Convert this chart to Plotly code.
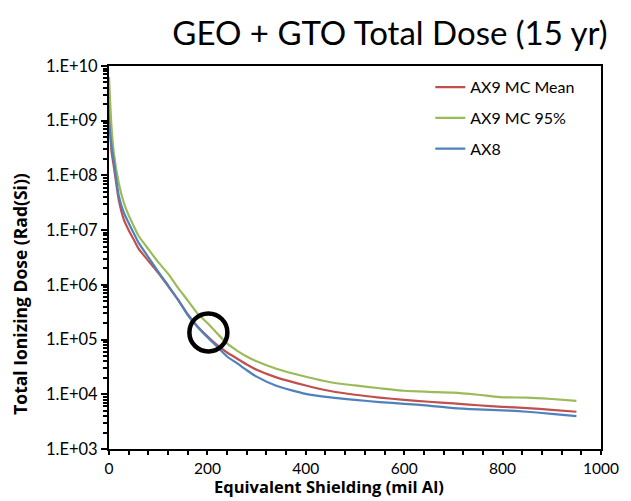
import plotly.graph_objects as go

# Equivalent aluminium shielding thickness (mil)
shielding = [0, 5, 10, 20, 30, 40, 50, 60, 80, 100, 120, 140, 160, 180, 200, 220,
             240, 260, 280, 300, 340, 400, 450, 500, 550, 600, 650, 700, 750, 800,
             850, 900, 950]

# Total ionizing dose, rad(Si)
ax9_mean = [2.5e9, 2.8e8, 1.41e8, 3.5e7, 1.58e7, 1.0e7, 6.8e6, 4.6e6, 2.75e6, 1.66e6,
            9.5e5, 5.4e5, 2.9e5, 1.74e5, 1.15e5, 7.9e4, 5.8e4, 4.5e4, 3.5e4, 2.8e4,
            2.04e4, 1.45e4, 1.15e4, 9.8e3, 8.7e3, 7.9e3, 7.3e3, 6.8e3, 6.3e3, 5.9e3,
            5.6e3, 5.2e3, 4.8e3]
ax9_95 = [6.3e9, 7.9e8, 2.5e8, 7.1e7, 3.2e7, 1.86e7, 1.2e7, 7.9e6, 4.5e6, 2.6e6,
          1.6e6, 8.9e5, 5.2e5, 3.0e5, 2.0e5, 1.29e5, 8.5e4, 6.3e4, 4.9e4, 4.0e4,
          2.92e4, 2.09e4, 1.66e4, 1.45e4, 1.29e4, 1.16e4, 1.11e4, 1.07e4, 9.8e3,
          8.8e3, 8.7e3, 8.2e3, 7.6e3]
ax8 = [9.5e8, 3.5e8, 1.78e8, 4.2e7, 2.1e7, 1.35e7, 8.9e6, 5.9e6, 3.2e6, 1.74e6,
       9.8e5, 5.4e5, 2.8e5, 1.7e5, 1.1e5, 7.4e4, 4.9e4, 3.7e4, 2.75e4, 2.1e4,
       1.43e4, 1.02e4, 8.8e3, 7.9e3, 7.2e3, 6.7e3, 6.2e3, 5.6e3, 5.3e3, 5.1e3,
       4.8e3, 4.4e3, 4.0e3]

series_names = ["AX9 MC Mean", "AX9 MC 95%", "AX8"]
series_colors = ["#C0504D", "#9BBB59", "#4F81BD"]

# Highlighted point on the curves
highlight_x = [202]
highlight_y = [1.35e5]

y_tick_vals = [1e3, 1e4, 1e5, 1e6, 1e7, 1e8, 1e9, 1e10]
y_tick_text = ["1.E+03", "1.E+04", "1.E+05", "1.E+06", "1.E+07", "1.E+08", "1.E+09", "1.E+10"]
y_minor_vals = [m * 10 ** e for e in range(3, 10) for m in range(2, 10)]

FONT = "Lato"
TITLE_FONT = "Open Sans"

fig = go.Figure()
for i, (name, vals, col) in enumerate(zip(series_names, [ax9_mean, ax9_95, ax8], series_colors)):
    fig.add_trace(go.Scatter(
        x=shielding, y=vals, name=name, mode="lines",
        line=dict(color=col, width=2.2, shape="spline", smoothing=0.6),
        legendgroup=f"g{i}",
    ))

fig.add_trace(go.Scatter(
    x=highlight_x, y=highlight_y, mode="markers", showlegend=False, hoverinfo="skip",
    marker=dict(symbol="circle-open", size=38, color="black", line=dict(width=4.5, color="black")),
))

fig.update_layout(
    width=631, height=501,
    margin=dict(l=109, r=20, t=66, b=52),
    paper_bgcolor="white", plot_bgcolor="white",
    font=dict(family=FONT, color="black", size=16.5),
    showlegend=True,
    legend=dict(x=0.653, y=0.989, xanchor="left", yanchor="top",
                bgcolor="rgba(0,0,0,0)", font=dict(size=16, family=FONT),
                tracegroupgap=7, itemwidth=30),
    xaxis=dict(
        range=[0, 1000], tickvals=[0, 200, 400, 600, 800, 1000],
        ticks="outside", ticklen=4, tickwidth=2, tickcolor="black",
        showgrid=False, zeroline=False,
        showline=True, linecolor="black", linewidth=2, mirror=True,
        tickfont=dict(size=15.5, family=FONT),
        minor=dict(tickmode="array", tickvals=[v for v in range(40, 1000, 40) if v % 200],
                   ticks="outside", ticklen=4, tickwidth=1.5, tickcolor="black", showgrid=False),
    ),
    yaxis=dict(
        type="log", range=[3, 10],
        tickmode="array", tickvals=y_tick_vals, ticktext=y_tick_text,
        ticks="outside", ticklen=6, tickwidth=2, tickcolor="black",
        showgrid=False, zeroline=False,
        showline=True, linecolor="black", linewidth=2, mirror=True,
        tickfont=dict(size=16.5, family=FONT),
        minor=dict(tickmode="array", tickvals=y_minor_vals,
                   ticks="outside", ticklen=4, tickwidth=1.5, tickcolor="black", showgrid=False),
    ),
    title=dict(text="GEO + GTO Total Dose (15 yr)", x=390 / 631, xanchor="center",
               y=1 - 33 / 501, yanchor="middle", yref="container",
               font=dict(size=33, family=FONT)),
    annotations=[
        dict(text="<b>Equivalent Shielding (mil Al)</b>", xref="paper", yref="paper",
             x=(333 - 109) / 502, y=(449 - 500) / 383, xanchor="center", yanchor="bottom",
             showarrow=False, font=dict(size=16.5, family=TITLE_FONT)),
        dict(text="<b>Total Ionizing Dose (Rad(Si))</b>", xref="paper", yref="paper",
             x=(18 - 109) / 502, y=(449 - 294) / 383, xanchor="center", yanchor="middle",
             textangle=-90, showarrow=False, font=dict(size=17.5, family=TITLE_FONT)),
    ],
)

fig.write_html("out.html")
